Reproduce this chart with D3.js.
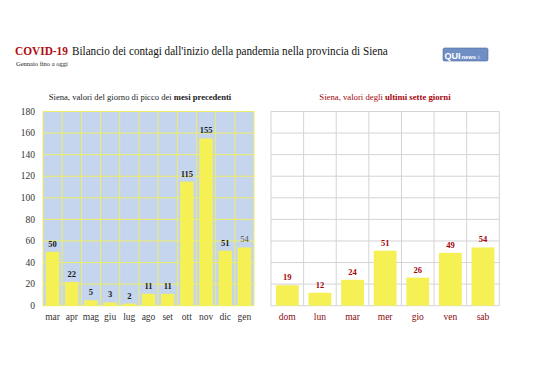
<!DOCTYPE html>
<html><head><meta charset="utf-8">
<script src="https://cdn.jsdelivr.net/npm/d3@7"></script>
<style>
body{margin:0;background:#fff;}
text{font-family:"Liberation Serif","Times New Roman",serif;}
text.sans{font-family:"Liberation Sans",Arial,sans-serif;}
</style></head>
<body><svg id="c" width="538" height="380"></svg>
<script>
const months = ["mar","apr","mag","giu","lug","ago","set","ott","nov","dic","gen"];
const monthValues = [50,22,5,3,2,11,11,115,155,51,54];
const days = ["dom","lun","mar","mer","gio","ven","sab"];
const dayValues = [19,12,24,51,26,49,54];
const yTicks = [0,20,40,60,80,100,120,140,160,180];

const svg = d3.select("#c");
svg.append("rect").attr("width",538).attr("height",380).attr("fill","#fff");

// Title (horizontally condensed to match the narrow serif of the original)
function fitText(x, yy, w, size, weight, fill, str){
  const tx = svg.append("text").attr("font-size",size).attr("font-weight",weight).attr("fill",fill).text(str);
  const len = tx.node().getComputedTextLength();
  tx.attr("transform",`translate(${x},${yy}) scale(${w/len},1)`);
  return tx;
}
fitText(15,55,53,13.5,"bold","#b00d12","COVID-19");
fitText(72,55,316,13.5,"normal","#111","Bilancio dei contagi dall'inizio della pandemia nella provincia di Siena");
svg.append("text").attr("x",16).attr("y",66).attr("font-size",6.5).attr("fill","#222").text("Gennaio fino a oggi");

// Logo
const lg = svg.append("g").attr("transform","translate(443,48)");
lg.append("rect").attr("width",45).attr("height",13).attr("rx",1.5).attr("fill","#6f8fc4").attr("stroke","#4a6aa0").attr("stroke-width",0.6);
const lt = lg.append("text").attr("class","sans").attr("x",1.5).attr("y",10.5).attr("fill","#fff").attr("font-weight","bold");
lt.append("tspan").attr("font-size",9).text("QUI");
lt.append("tspan").attr("font-size",5.8).attr("dx",1).text("news");
lt.append("tspan").attr("font-size",4.5).attr("font-weight","normal").attr("fill","#c8d6ee").attr("dx",0.5).text(".it");

const y = d3.scaleLinear().domain([0,180]).range([305.7,111.5]);

// LEFT CHART
const xL = d3.scaleBand().domain(months).range([43,254]).paddingInner(0.3).paddingOuter(0.15);
const bandL = (254-43)/months.length;
const gL = svg.append("g");
gL.append("rect").attr("x",43).attr("y",y(180)).attr("width",211).attr("height",y(0)-y(180)).attr("fill","#c5d5ee");
gL.selectAll(".hg").data(yTicks).join("line")
  .attr("x1",43).attr("x2",254).attr("y1",d=>y(d)).attr("y2",d=>y(d))
  .attr("stroke","#eeee66").attr("stroke-width",1);
gL.selectAll(".vg").data(d3.range(months.length+1)).join("line")
  .attr("x1",i=>43+i*bandL).attr("x2",i=>43+i*bandL).attr("y1",y(180)).attr("y2",y(0))
  .attr("stroke","#eeee66").attr("stroke-width",1);
gL.selectAll(".bar").data(monthValues).join("rect")
  .attr("x",(d,i)=>xL(months[i])).attr("width",xL.bandwidth())
  .attr("y",d=>y(d)).attr("height",d=>y(0)-y(d)).attr("fill","#f5f155");
gL.selectAll(".vl").data(monthValues).join("text")
  .attr("x",(d,i)=>xL(months[i])+xL.bandwidth()/2).attr("y",d=>y(d)-5)
  .attr("text-anchor","middle").attr("font-size",8.5)
  .attr("font-weight",(d,i)=>i===months.length-1?"normal":"bold")
  .attr("fill",(d,i)=>i===months.length-1?"#555":"#1a1a1a").text(d=>d);
gL.selectAll(".yl").data(yTicks).join("text")
  .attr("x",35).attr("y",d=>y(d)+3.2).attr("text-anchor","end").attr("font-size",9.5).attr("fill","#333").text(d=>d);
gL.selectAll(".xl").data(months).join("text")
  .attr("x",d=>xL(d)+xL.bandwidth()/2).attr("y",320).attr("text-anchor","middle").attr("font-size",9.5).attr("fill","#333").text(d=>d);
const stL = svg.append("text").attr("x",140).attr("y",99.5).attr("text-anchor","middle").attr("font-size",8.6).attr("fill","#222");
stL.append("tspan").text("Siena, valori del giorno di picco dei ");
stL.append("tspan").attr("font-weight","bold").text("mesi precedenti");

// RIGHT CHART
const x0=271, x1=499.3;
const xR = d3.scaleBand().domain(days).range([x0,x1]).paddingInner(0.3).paddingOuter(0.15);
const bandR = (x1-x0)/days.length;
const gR = svg.append("g");
gR.selectAll(".hg").data(yTicks).join("line")
  .attr("x1",x0).attr("x2",x1).attr("y1",d=>y(d)).attr("y2",d=>y(d))
  .attr("stroke","#d4d4d4").attr("stroke-width",1);
gR.selectAll(".vg").data(d3.range(days.length+1)).join("line")
  .attr("x1",i=>x0+i*bandR).attr("x2",i=>x0+i*bandR).attr("y1",y(180)).attr("y2",y(0))
  .attr("stroke","#d4d4d4").attr("stroke-width",1);
gR.selectAll(".bar").data(dayValues).join("rect")
  .attr("x",(d,i)=>xR(days[i])).attr("width",xR.bandwidth())
  .attr("y",d=>y(d)).attr("height",d=>y(0)-y(d)).attr("fill","#f5f155");
gR.selectAll(".vl").data(dayValues).join("text")
  .attr("x",(d,i)=>xR(days[i])+xR.bandwidth()/2).attr("y",d=>y(d)-5)
  .attr("text-anchor","middle").attr("font-size",8.5).attr("font-weight","bold").attr("fill","#a3050c").text(d=>d);
gR.selectAll(".xl").data(days).join("text")
  .attr("x",d=>xR(d)+xR.bandwidth()/2).attr("y",320).attr("text-anchor","middle").attr("font-size",9.5).attr("fill","#8a0a0e").text(d=>d);
const stR = svg.append("text").attr("x",385).attr("y",99.5).attr("text-anchor","middle").attr("font-size",8.7).attr("fill","#a3050c");
stR.append("tspan").text("Siena, valori degli ");
stR.append("tspan").attr("font-weight","bold").text("ultimi sette giorni");
</script></body></html>
